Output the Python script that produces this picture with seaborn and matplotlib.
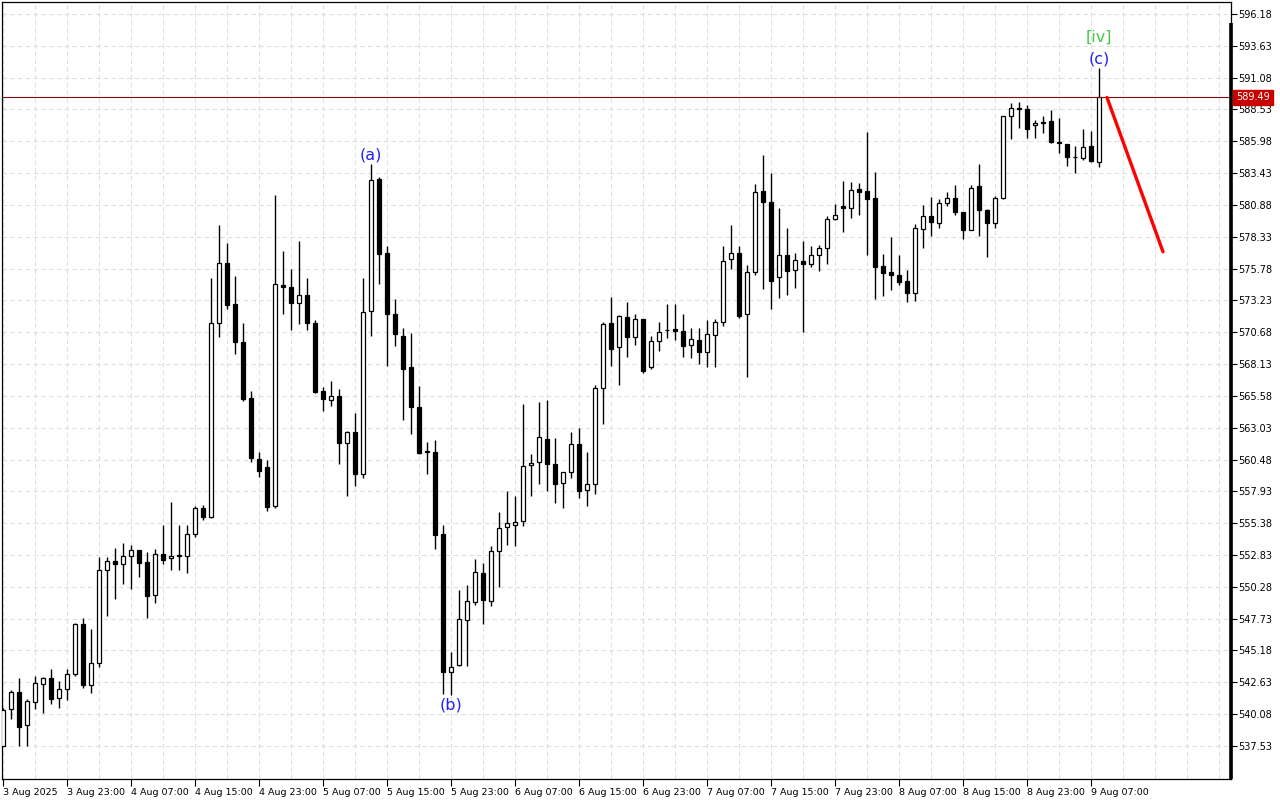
import numpy as np
import pandas as pd
import matplotlib
matplotlib.use("Agg")
import matplotlib.pyplot as plt
import seaborn as sns

# ---- data (hourly OHLC) ----
opens = [537.56, 540.46, 541.82, 539.18, 541.02, 542.46, 542.94, 541.34, 542.06, 543.31,
         547.33, 542.43, 544.14, 551.65, 552.36, 552.12, 552.76, 553.24, 552.28, 549.65,
         552.92, 552.60, 552.76, 552.76, 554.52, 556.57, 555.85, 571.45, 576.26, 572.98,
         569.93, 565.37, 560.56, 559.92, 556.77, 574.50, 574.34, 573.06, 573.70, 571.45,
         565.93, 565.21, 565.53, 561.84, 562.72, 559.28, 572.42, 582.94, 577.03, 572.15,
         570.41, 567.87, 564.67, 561.15, 561.10, 554.50, 543.45, 543.99, 547.65, 549.04,
         551.39, 549.16, 553.13, 555.07, 555.27, 555.58, 560.01, 560.27, 562.15, 560.15,
         558.57, 559.45, 561.70, 558.01, 558.49, 566.22, 571.40, 569.49, 571.88, 570.28,
         571.72, 567.89, 569.96, 570.84, 570.92, 570.76, 569.64, 570.04, 569.09, 570.44,
         571.48, 576.52, 577.06, 572.11, 575.47, 582.02, 581.14, 575.07, 576.83, 575.63,
         576.40, 576.11, 576.83, 577.39, 579.78, 580.82, 580.66, 582.18, 581.96, 581.46,
         575.98, 575.50, 575.26, 574.78, 573.80, 578.93, 580.02, 579.45, 581.04, 581.44,
         580.32, 578.89, 582.42, 580.46, 579.45, 581.44, 588.03, 588.61, 588.53, 587.26,
         587.52, 587.60, 585.90, 585.74, 584.71, 584.63, 585.58, 584.31]
highs = [540.60, 542.00, 542.96, 541.29, 543.10, 543.04, 543.68, 542.72, 543.68, 547.40,
         547.76, 546.88, 552.63, 552.66, 553.35, 553.83, 553.62, 553.26, 553.03, 553.27,
         555.27, 557.10, 555.27, 555.27, 556.76, 556.80, 575.06, 579.25, 577.81, 575.22,
         571.45, 565.93, 561.12, 560.43, 581.65, 577.17, 575.73, 577.97, 575.01, 571.64,
         566.33, 566.81, 566.17, 562.80, 564.17, 575.06, 584.14, 583.14, 577.57, 573.35,
         570.98, 570.58, 566.41, 561.87, 562.01, 555.24, 545.07, 550.01, 550.44, 552.50,
         552.19, 553.56, 556.30, 557.93, 557.53, 564.95, 560.95, 565.07, 565.21, 562.20,
         559.50, 562.71, 562.98, 561.07, 566.46, 571.50, 573.52, 572.06, 573.10, 572.14,
         571.75, 570.36, 571.50, 572.94, 572.94, 572.14, 571.00, 571.00, 571.64, 571.72,
         577.59, 579.30, 577.59, 576.06, 582.52, 584.92, 583.40, 580.66, 579.06, 577.02,
         577.95, 577.57, 577.65, 579.99, 580.93, 582.76, 582.68, 582.60, 586.72, 583.48,
         576.91, 578.29, 576.86, 575.66, 579.33, 580.85, 581.48, 581.36, 581.89, 582.47,
         580.35, 582.47, 584.15, 580.54, 581.57, 588.03, 589.01, 589.09, 588.85, 587.65,
         587.97, 588.48, 587.87, 585.78, 585.58, 586.94, 586.78, 591.88]
lows = [537.50, 539.72, 537.56, 537.56, 540.51, 540.17, 540.89, 540.59, 541.23, 543.15,
        542.19, 541.79, 543.87, 547.94, 549.30, 550.50, 550.13, 551.06, 547.81, 548.98,
        552.10, 551.62, 551.62, 551.38, 554.30, 555.60, 555.80, 570.31, 572.52, 568.95,
        565.18, 560.29, 559.09, 556.37, 556.60, 572.12, 570.87, 571.35, 570.87, 565.79,
        564.38, 564.78, 560.16, 557.52, 558.32, 558.96, 570.38, 574.58, 568.01, 569.55,
        563.64, 562.52, 560.95, 559.35, 553.33, 541.73, 541.59, 543.90, 543.90, 548.79,
        547.33, 548.73, 550.30, 553.67, 553.53, 555.13, 557.58, 558.52, 557.93, 556.96,
        556.60, 559.00, 557.43, 556.79, 557.75, 563.32, 567.97, 566.43, 568.66, 569.62,
        567.45, 567.73, 569.14, 570.18, 570.04, 568.66, 568.58, 568.13, 567.89, 567.89,
        571.20, 575.78, 571.80, 567.12, 575.29, 574.17, 572.57, 573.45, 573.69, 574.25,
        570.66, 575.87, 575.61, 576.16, 579.68, 578.72, 579.84, 580.08, 576.88, 573.37,
        573.61, 574.09, 574.49, 573.08, 573.21, 577.44, 578.40, 579.05, 580.77, 580.11,
        578.17, 578.85, 578.38, 576.74, 579.05, 581.36, 586.17, 587.07, 586.27, 586.27,
        586.67, 585.82, 585.08, 583.96, 583.43, 584.44, 584.35, 583.91]
closes = [540.43, 541.82, 539.08, 541.10, 542.54, 542.94, 541.31, 542.06, 543.26, 547.33,
          542.43, 544.14, 551.65, 552.36, 552.10, 552.76, 553.19, 552.20, 549.57, 552.92,
          552.44, 552.76, 552.80, 554.52, 556.57, 555.85, 571.45, 576.26, 572.87, 569.91,
          565.34, 560.61, 559.57, 556.69, 574.58, 574.31, 573.03, 573.67, 571.43, 565.90,
          565.29, 565.53, 561.84, 562.72, 559.28, 572.34, 582.86, 576.92, 572.12, 570.52,
          567.75, 564.72, 561.01, 561.12, 554.44, 543.42, 543.85, 547.67, 549.13, 551.44,
          549.24, 553.13, 554.96, 555.36, 555.50, 559.93, 560.21, 562.27, 560.15, 558.53,
          559.45, 561.76, 557.93, 558.49, 566.22, 571.32, 569.30, 571.96, 570.28, 571.72,
          567.55, 569.96, 570.73, 570.86, 570.76, 569.56, 570.12, 569.09, 570.52, 571.48,
          576.39, 577.00, 571.96, 575.47, 581.94, 581.14, 574.81, 576.83, 575.61, 576.43,
          576.11, 576.83, 577.39, 579.78, 580.10, 580.66, 582.10, 581.94, 581.38, 575.93,
          575.45, 575.29, 574.73, 573.85, 579.01, 579.99, 579.54, 581.04, 581.44, 580.32,
          578.89, 582.24, 580.48, 579.45, 581.44, 587.97, 588.61, 588.53, 586.94, 587.41,
          587.44, 585.90, 585.82, 584.71, 584.74, 585.50, 584.39, 589.49]

time_labels = ["3 Aug 2025", "3 Aug 23:00", "4 Aug 07:00", "4 Aug 15:00", "4 Aug 23:00",
               "5 Aug 07:00", "5 Aug 15:00", "5 Aug 23:00", "6 Aug 07:00", "6 Aug 15:00",
               "6 Aug 23:00", "7 Aug 07:00", "7 Aug 15:00", "7 Aug 23:00", "8 Aug 07:00",
               "8 Aug 15:00", "8 Aug 23:00", "9 Aug 07:00"]
price_ticks = [537.53, 540.08, 542.63, 545.18, 547.73, 550.28, 552.83, 555.38, 557.93,
               560.48, 563.03, 565.58, 568.13, 570.68, 573.23, 575.78, 578.33, 580.88,
               583.43, 585.98, 588.53, 591.08, 593.63, 596.18]
current_price = 589.49

# wave labels: (bar index, price, text, color)
wave_bar = [46, 56, 137, 137]
wave_price = [584.88, 540.81, 592.57, 594.34]
wave_text = ["(a)", "(b)", "(c)", "[iv]"]
wave_color = ["#2020ff", "#2020ff", "#2020ff", "#44c844"]

# projection line
proj_bar = [138, 145]
proj_price = [589.49, 577.13]

# ---- plotting ----
sns.set_style("white")
plt.rcParams["font.family"] = ["DejaVu Sans"]

df = pd.DataFrame({"open": opens, "high": highs, "low": lows, "close": closes})
df["idx"] = np.arange(len(df))
df["bull"] = df["close"] >= df["open"]

fig = plt.figure(figsize=(12.8, 8), dpi=100)
ax = fig.add_axes([2 / 1280, 21 / 800, 1229 / 1280, 777 / 800])

ax.set_xlim(-0.1, 153.5)
ax.set_ylim(534.88, 597.14)

# grid
for k in range(0, 154, 4):
    ax.axvline(k, color="#dedede", lw=0.8, ls=(0, (4, 3)), zorder=0)
for p in price_ticks:
    ax.axhline(p, color="#dedede", lw=0.8, ls=(0, (4, 3)), zorder=0)

# wicks
ax.vlines(df["idx"], df["low"], df["high"], color="black", lw=1.0, zorder=2)
# bodies
body_bottom = np.minimum(df["open"], df["close"])
body_h = np.abs(df["close"] - df["open"])
face = np.where(df["bull"], "white", "black")
ax.bar(df["idx"], body_h, bottom=body_bottom, width=0.55, color=face,
       edgecolor="black", linewidth=0.9, zorder=3)

# current price line
ax.axhline(current_price, color="#7a1010", lw=0.8, zorder=4)

# projection
proj = pd.DataFrame({"x": proj_bar, "y": proj_price})
sns.lineplot(data=proj, x="x", y="y", ax=ax, color="#ff0000", lw=2.4, zorder=5)
ax.set_xlabel("")
ax.set_ylabel("")

# wave labels
for b, p, t, c in zip(wave_bar, wave_price, wave_text, wave_color):
    ax.text(b, p, t, color=c, fontsize=11.5, ha="center", va="center", zorder=6)

# axes styling
for s in ["top", "left", "bottom", "right"]:
    ax.spines[s].set_color("black")
    ax.spines[s].set_linewidth(0.9)
ax.plot([1, 1], [0, 0.973], transform=ax.transAxes, color="black", lw=2.6,
        clip_on=False, zorder=7, solid_capstyle="butt")

ax.yaxis.tick_right()
ax.set_yticks(price_ticks)
ax.set_yticklabels([f"{p:.2f}" for p in price_ticks])
ax.tick_params(axis="y", direction="out", length=4, width=0.8, pad=1.5,
               labelsize=7, colors="black", right=True, left=False)

xt = list(range(0, 8 * len(time_labels), 8))
ax.set_xticks(xt)
ax.set_xticklabels(time_labels, ha="left")
ax.tick_params(axis="x", direction="out", length=5, width=0.8, pad=1.5,
               labelsize=6.8, colors="black", bottom=True)
for lbl in ax.get_xticklabels():
    lbl.set_horizontalalignment("left")

# current price tag
ax.annotate(f"{current_price:.2f}", xy=(1.0, current_price),
            xycoords=("axes fraction", "data"), xytext=(3.5, 0),
            textcoords="offset points", ha="left", va="center",
            fontsize=7, color="white", zorder=8, annotation_clip=False,
            bbox=dict(boxstyle="square,pad=0.3", fc="#c80000", ec="#c80000"))

fig.savefig("out.png", dpi=100)
